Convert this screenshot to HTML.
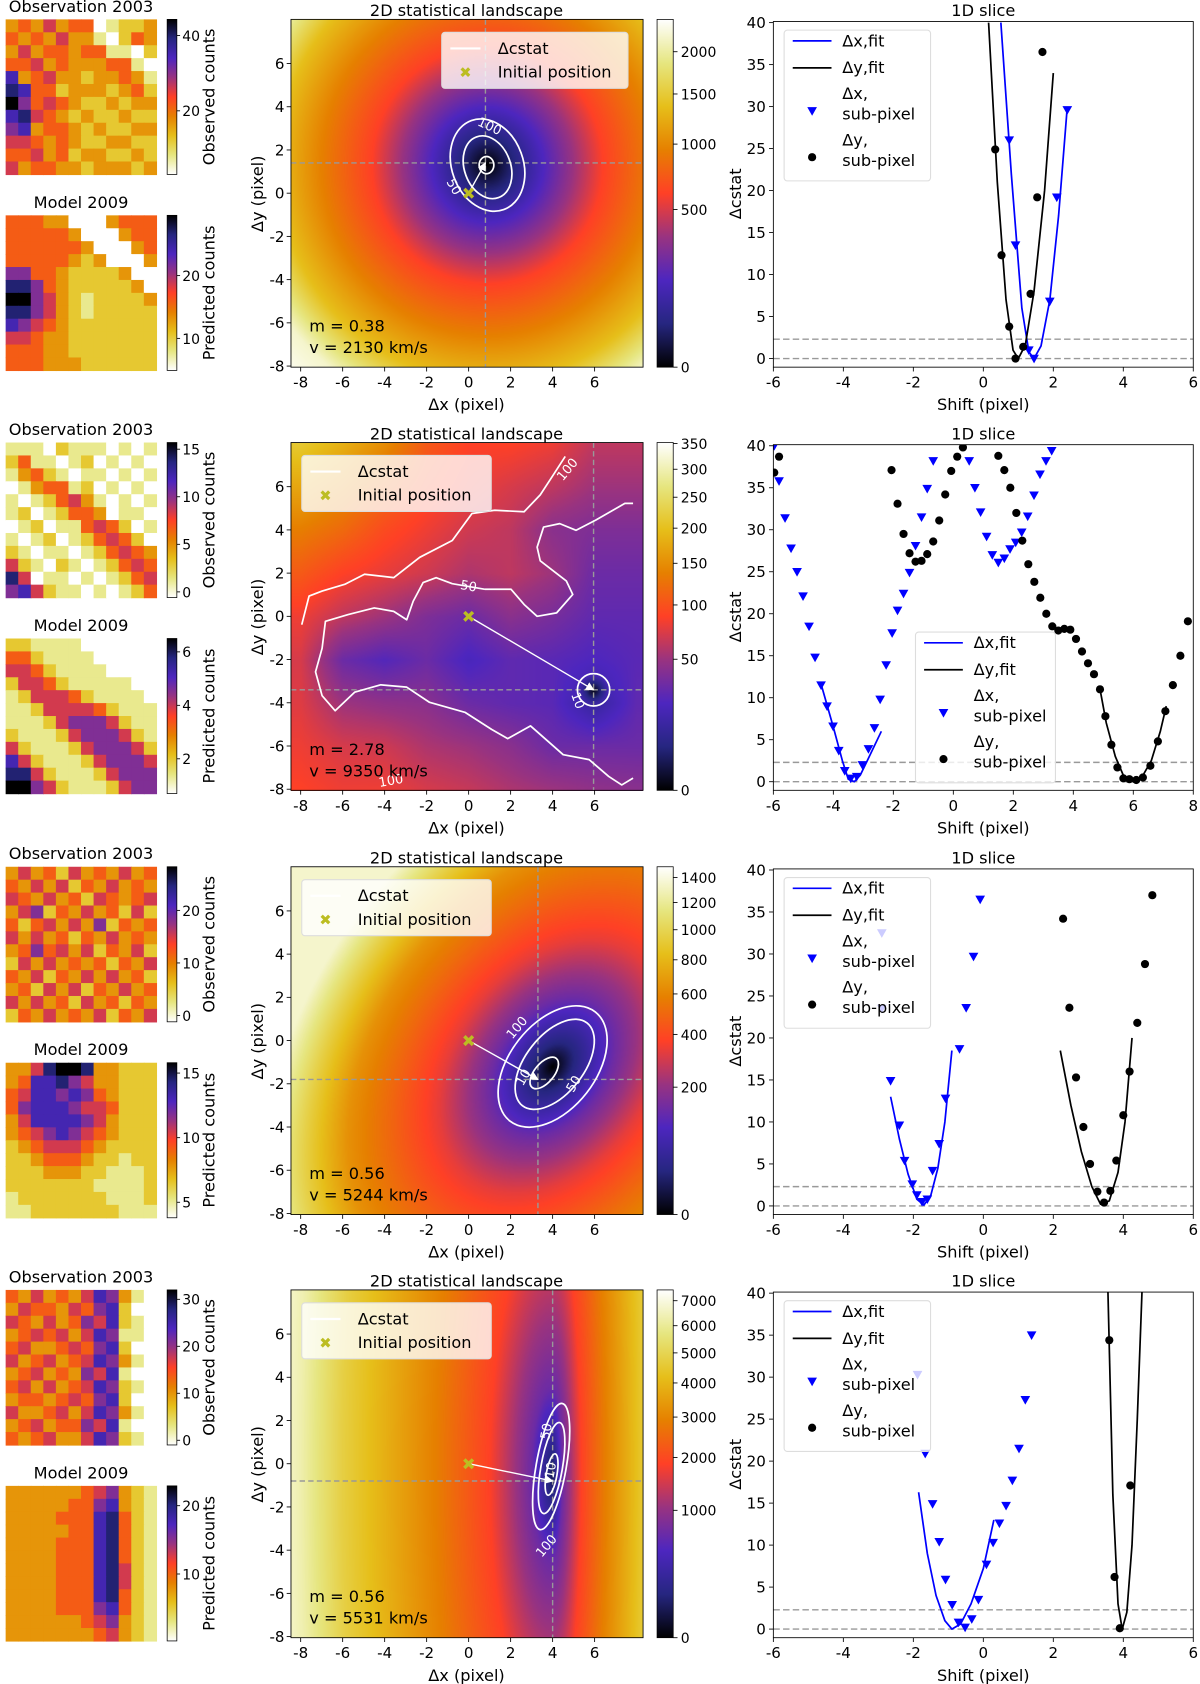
<!DOCTYPE html>
<html><head><meta charset="utf-8">
<style>
html,body{margin:0;padding:0;background:#fff;}
#wrap{position:relative;width:1200px;height:1684px;overflow:hidden;background:#fff;}
canvas{position:absolute;z-index:0;}
svg{position:absolute;left:0;top:0;z-index:1;}
text{font-family:"DejaVu Sans","Liberation Sans",sans-serif;}
</style></head>
<body>
<div id="wrap">
<svg id="fig" width="1200" height="1684" viewBox="0 0 1114 1564">
<defs>
<linearGradient id="cmapUp" x1="0" y1="1" x2="0" y2="0">
<stop offset="0" stop-color="rgb(0,0,0)"/><stop offset="0.125" stop-color="rgb(38,38,128)"/><stop offset="0.25" stop-color="rgb(77,38,191)"/><stop offset="0.375" stop-color="rgb(153,51,128)"/><stop offset="0.5" stop-color="rgb(255,64,38)"/><stop offset="0.625" stop-color="rgb(230,128,0)"/><stop offset="0.75" stop-color="rgb(230,191,26)"/><stop offset="0.875" stop-color="rgb(230,230,128)"/><stop offset="1" stop-color="rgb(255,255,255)"/>
</linearGradient>
<linearGradient id="cmapDown" x1="0" y1="0" x2="0" y2="1">
<stop offset="0" stop-color="rgb(0,0,0)"/><stop offset="0.125" stop-color="rgb(38,38,128)"/><stop offset="0.25" stop-color="rgb(77,38,191)"/><stop offset="0.375" stop-color="rgb(153,51,128)"/><stop offset="0.5" stop-color="rgb(255,64,38)"/><stop offset="0.625" stop-color="rgb(230,128,0)"/><stop offset="0.75" stop-color="rgb(230,191,26)"/><stop offset="0.875" stop-color="rgb(230,230,128)"/><stop offset="1" stop-color="rgb(255,255,255)"/>
</linearGradient>
<marker id="arrowHead" markerWidth="8" markerHeight="8" refX="7" refY="4" orient="auto" markerUnits="userSpaceOnUse"><path d="M0,0 L8,4 L0,8 Z" fill="#fff"/></marker>
</defs>
</svg>
</div>
<script>
// ---------- data ----------
const rowOffsets=[0,393,787,1180];
const obsImg1=["343534401223","434353310243","353443441102","445343334410","734533233431","874423332342","964543223233","785432322322","673443232233","554343223322","445342332232","534433233323"];
const modImg1=["444330003444","444443000344","444444300034","444443230003","664432222300","886432222230","996532122223","886532122222","765432222222","554332222222","444332222222","444333222222"];
const obsImg2=["111021110101","241101201010","134210110101","013441201010","101245310101","120124430110","012011454201","101201245420","210110124543","521021012454","850110101245","675211010124"];
const modImg2=["221111000000","442111100000","554211110000","255421111100","125554211110","112555542111","111256665211","211125666521","521112566652","752111256665","885211125666","996521112566"];
const obsImg3=["353425343534","435352435343","543534254345","356243534252","424535362434","535342435343","346453524352","253534342435","435243535342","342535243534","535342534243","243534352435"];
const modImg3=["335899833222","347786533222","457767643222","467776554222","357777653222","345676543222","234555432222","223444322122","222333221112","222222211112","122222221112","112222222111"];
const obsImg4=["435343576310","354435467200","543534657210","345453576110","453345467200","534534576310","345343657100","453534576210","344345467200","533453576310","345344657100","434533576210"];
const modImg4=["333333456321","333334467321","333344478421","333334478421","333344478421","333344478421","333344478521","333344478521","333344478421","333344467421","333333456321","333333345321"];
const obsImgs=[obsImg1,obsImg2,obsImg3,obsImg4];
const modImgs=[modImg1,modImg2,modImg3,modImg4];
const obsRange=[[3.1,44.3],[-0.6,15.7],[-1.2,28.3],[-1,32]];
const obsTicks=[[20,40],[0,5,10,15],[0,10,20],[0,10,20,30]];
const modRange=[[4.9,29.6],[0.7,6.5],[3.8,15.8],[0.2,22.9]];
const modTicks=[[10,20],[2,4,6],[5,10,15],[10,20]];
const landVmax=[2431,352,1491,7455];
const landTicks=[[0,500,1000,1500,2000],[0,50,100,150,200,250,300,350],[0,200,400,600,800,1000,1200,1400],[0,1000,2000,3000,4000,5000,6000,7000]];
const bestPos=[[0.8,1.4],[5.95,-3.4],[3.3,-1.8],[4.0,-0.8]];
const mTexts=["m = 0.38","m = 2.78","m = 0.56","m = 0.56"];
const vTexts=["v = 2130 km/s","v = 9350 km/s","v = 5244 km/s","v = 5531 km/s"];
const landXTicks=[-8,-6,-4,-2,0,2,4,6];
const landYTicks=[-8,-6,-4,-2,0,2,4,6];
const profD=[0,1,3,5.5,8,10,12,14];
const profT1=[0,0.1,0.28,0.5,0.63,0.75,0.95,1];
const profT3=[0,0.12,0.3,0.47,0.58,0.66,0.8,0.95];
const profT4=[0.08,0.3,0.5,0.62,0.72,0.8,0.92,1];
const land2Grid=[
[0.78,0.72,0.65,0.55,0.5,0.5,0.48,0.42,0.42],
[0.7,0.65,0.58,0.52,0.48,0.45,0.42,0.38,0.38],
[0.62,0.58,0.52,0.48,0.44,0.42,0.35,0.33,0.33],
[0.55,0.5,0.47,0.44,0.4,0.42,0.38,0.3,0.3],
[0.48,0.42,0.38,0.33,0.3,0.35,0.32,0.28,0.28],
[0.45,0.3,0.26,0.3,0.24,0.28,0.27,0.25,0.27],
[0.46,0.38,0.36,0.35,0.3,0.28,0.27,0.18,0.28],
[0.48,0.45,0.44,0.4,0.38,0.35,0.3,0.3,0.3],
[0.5,0.48,0.48,0.45,0.43,0.4,0.38,0.36,0.35]];
// contour ellipses per row: [cx, cy, rx, ry, angleDeg, label, labelDx, labelDy, labelRot]
const contours1=[[0.85,1.3,0.35,0.4,0,"",0,0,0],[0.9,1.2,1.1,1.5,-20,"50",-0.7,0.3,60],[0.9,1.3,1.7,2.2,-20,"100",1.0,3.1,25]];
const contours3=[[3.6,-1.5,0.9,0.45,-50,"10",2.6,-1.7,-60],[4.1,-1.1,2.5,1.35,-52,"50",5.0,-2.0,-60],[4.0,-1.2,3.3,2.0,-52,"100",2.3,0.6,-50]];
const contours4=[[3.95,-0.5,1.0,0.25,-80,"10",3.9,-0.3,-80],[3.95,-0.2,2.2,0.5,-80,"50",3.7,1.5,-80],[3.93,-0.13,3.05,0.7,-80,"100",3.7,-3.8,-50]];
const contourSets=[contours1,null,contours3,contours4];
const c2Line100X=[-7.95,-7.6,-6.98,-5.9,-4.96,-3.57,-2.33,-0.78,0.16,1.24,2.64,3.41,4.0,4.6];
const c2Line100Y=[-0.39,0.94,1.17,1.48,1.95,1.79,2.73,3.51,4.76,4.91,4.84,5.62,6.5,7.4];
const c2Line50X=[0.78,-0.78,-1.55,-2.17,-2.64,-2.95,-3.57,-4.5,-5.74,-6.82,-6.98,-7.29,-6.98,-6.36,-5.43,-4.19,-2.95,-1.86,-0.16,1.09,1.86,2.95,4.03,4.5,5.74,6.67,7.29,7.83];
const c2Line50Y=[1.25,1.51,1.79,1.56,0.7,-0.16,0.23,0.39,0.08,-0.23,-1.48,-2.57,-3.67,-4.37,-3.51,-3.17,-3.28,-3.98,-4.45,-5.23,-5.66,-5.07,-6.0,-6.4,-6.63,-7.41,-7.8,-7.49];
const c2Line50bX=[0.78,2.02,2.64,3.26,4.19,4.96,4.65,3.41,3.26,3.57,4.34,5.12,6.05,7.44,7.83];
const c2Line50bY=[1.25,1.25,0.55,0,0.16,1.01,1.64,2.57,3.2,4.13,4.29,3.98,4.45,5.23,5.23];
const sliceXTicks1=[-6,-4,-2,0,2,4,6];
const sliceXTicks2=[-6,-4,-2,0,2,4,6,8];
const sliceYTicks=[0,5,10,15,20,25,30,35,40];
const triX1=[0.74,0.92,1.3,1.45,1.9,2.1,2.4];
const triY1=[26,13.5,1.0,0,6.8,19.2,29.6];
const dotX1=[0.34,0.52,0.74,0.92,1.14,1.35,1.54,1.69];
const dotY1=[24.9,12.3,3.8,0,1.4,7.7,19.2,36.5];
const fitBX1=[0.5,0.8,1.1,1.3,1.45,1.65,1.9,2.15,2.4];
const fitBY1=[40,22,6,0.8,0,1.5,7,17,30];
const fitKX1=[0.15,0.4,0.65,0.85,1.0,1.2,1.45,1.75,2.0];
const fitKY1=[40,21,7,1,0,1.6,8,20,34];
const triX2=[-5.97,-5.81,-5.61,-5.41,-5.21,-5.01,-4.81,-4.61,-4.41,-4.21,-4.01,-3.82,-3.62,-3.42,-3.22,-3.03,-2.83,-2.63,-2.44,-2.24,-2.04,-1.86,-1.66,-1.46,-1.26,-1.06,-0.87,-0.67,0.53,0.72,0.91,1.11,1.3,1.5,1.7,1.89,2.08,2.28,2.48,2.69,2.89,3.09,3.28];
const triY2=[40,35.8,31.4,27.8,25,22.1,18.5,14.8,11.5,9,6.6,3.7,1.3,0.4,0.6,2,3.9,6.4,9.8,13.9,17.7,20.4,22.4,24.9,28.1,31.5,34.9,38.2,38.2,35,32.1,29.2,27,26.1,26.6,27.7,28.5,29.7,31.6,34.1,36.6,38.2,39.4];
const dotX2=[-5.97,-5.81,-2.06,-1.86,-1.66,-1.46,-1.26,-1.06,-0.87,-0.67,-0.47,-0.27,-0.07,0.13,0.32,1.5,1.7,1.9,2.1,2.3,2.5,2.7,2.9,3.1,3.3,3.5,3.7,3.9,4.09,4.29,4.49,4.69,4.89,5.07,5.27,5.47,5.67,5.87,6.1,6.32,6.57,6.82,7.07,7.32,7.57,7.82];
const dotY2=[36.8,38.7,37.1,33.1,29.5,27.2,26.2,26.3,27.1,28.6,31.1,34.2,37,38.7,39.8,38.8,37.1,35,32,28.7,25.9,23.8,21.9,20,18.5,18,18.2,18.1,17,15.5,14.1,12.8,11,7.8,4.4,1.7,0.4,0.3,0.2,0.5,1.9,4.8,8.4,11.5,15,19.1];
const fitBX2=[-4.4,-4.0,-3.7,-3.5,-3.3,-3.1,-2.8,-2.4];
const fitBY2=[11.5,6.5,2.5,0.3,0,0.8,3,6];
const fitKX2=[4.89,5.1,5.4,5.7,6.0,6.3,6.6,6.9,7.1];
const fitKY2=[11,7,3,0.5,0,0.6,2.5,6,9];
const triX3=[-2.9,-2.9,-2.65,-2.4,-2.25,-2.03,-1.9,-1.75,-1.6,-1.45,-1.26,-1.08,-0.68,-0.49,-0.28,-0.09];
const triY3=[32.5,23.5,14.9,9.6,5.4,2.6,1.3,0.5,0.8,4.2,7.4,12.8,18.7,23.6,29.7,36.5];
const dotX3=[2.28,2.46,2.65,2.86,3.05,3.26,3.45,3.63,3.8,4.0,4.18,4.4,4.62,4.83];
const dotY3=[34.2,23.6,15.3,9.4,5,1.7,0.4,1.8,5.4,10.8,16,21.8,28.8,37];
const fitBX3=[-2.65,-2.4,-2.15,-1.9,-1.7,-1.5,-1.3,-1.1,-0.9];
const fitBY3=[13,8,3.8,0.8,0.1,1.3,4.5,10,18.5];
const fitKX3=[2.2,2.5,2.8,3.1,3.35,3.6,3.85,4.05,4.25];
const fitKY3=[18.5,12,6.5,2.3,0.2,0.6,4,10,20];
const triX4=[-1.88,-1.66,-1.45,-1.26,-1.08,-0.89,-0.71,-0.52,-0.33,-0.14,0.09,0.28,0.46,0.65,0.83,1.02,1.2,1.38];
const triY4=[30.3,20.9,14.9,10.4,5.9,2.9,0.8,0.2,1.2,3.5,7.7,10.3,12.6,14.7,17.7,21.5,27.3,35];
const dotX4=[3.6,3.75,3.9,4.2];
const dotY4=[34.4,6.2,0.1,17.1];
const fitBX4=[-1.85,-1.6,-1.35,-1.1,-0.9,-0.65,-0.35,0,0.3];
const fitBY4=[16.3,9,4,1,0,0.6,3,7.2,13];
const fitKX4=[3.55,3.7,3.85,3.97,4.1,4.25,4.4,4.55];
const fitKY4=[42,16,3,0,2,10,25,42];
const triXs=[triX1,triX2,triX3,triX4], triYs=[triY1,triY2,triY3,triY4];
const dotXs=[dotX1,dotX2,dotX3,dotX4], dotYs=[dotY1,dotY2,dotY3,dotY4];
const fitBXs=[fitBX1,fitBX2,fitBX3,fitBX4], fitBYs=[fitBY1,fitBY2,fitBY3,fitBY4];
const fitKXs=[fitKX1,fitKX2,fitKX3,fitKX4], fitKYs=[fitKY1,fitKY2,fitKY3,fitKY4];
const chi2Levels=[0,2.3];

// ---------- helpers ----------
const NS="http://www.w3.org/2000/svg";
const svg=document.getElementById('fig');
const wrap=document.getElementById('wrap');
const SC=1200/1114;
function mk(tag,attrs,parent,txt){const e=document.createElementNS(NS,tag);for(const k in attrs)e.setAttribute(k,attrs[k]);if(txt!==undefined)e.textContent=txt;(parent||svg).appendChild(e);return e;}
const CM=[[0,0,0],[38,38,128],[77,38,191],[153,51,128],[255,64,38],[230,128,0],[230,191,26],[230,230,128],[255,255,255]];
function cmap(t){t=Math.max(0,Math.min(1,t));const f=t*8;const i=Math.min(7,Math.floor(f));const r=f-i;const a=CM[i],b=CM[i+1];return[a[0]+(b[0]-a[0])*r,a[1]+(b[1]-a[1])*r,a[2]+(b[2]-a[2])*r];}
function rgb(c){return 'rgb('+Math.round(c[0])+','+Math.round(c[1])+','+Math.round(c[2])+')';}
function interp(xs,ys,x){if(x<=xs[0])return ys[0];for(let i=1;i<xs.length;i++){if(x<=xs[i]){const r=(x-xs[i-1])/(xs[i]-xs[i-1]);return ys[i-1]+(ys[i]-ys[i-1])*r;}}return ys[ys.length-1];}

const LX0=270,LX1=597;
function lx(x){return 279+(x+8)*19.5;}
function ly(y,ro){return ro+59-(y-6)*20.07;}
function sx(x,r){return r===1?718+(x+6)*27.857:718+(x+6)*32.5;}
function sy(y,ro){return ro+333-y*7.8;}

function fieldT(r,x,y){
  if(r===0){const d=Math.hypot(x-0.9,y-1.3);return interp(profD,profT1,d);}
  if(r===2){const dx=x-4.0,dy=y+1.2;const a=-52*Math.PI/180;const u=dx*Math.cos(a)+(-dy)*Math.sin(a),v=-dx*Math.sin(a)+(-dy)*Math.cos(a);const d=Math.hypot(u*0.85,v*1.2);return interp(profD,profT3,d);}
  if(r===3){let dx=x-4.0;dx=dx>0?dx*2.2:-dx;const d=Math.hypot(dx,(y+0.5)*0.25);return interp(profD,profT4,d);}
  const gx=(x+8)/2,gy=(8-y)/2;const i=Math.max(0,Math.min(7,Math.floor(gy))),j=Math.max(0,Math.min(7,Math.floor(gx)));
  const ry=Math.max(0,Math.min(1,gy-i)),rx=Math.max(0,Math.min(1,gx-j));
  const g=land2Grid;let t=g[i][j]*(1-rx)*(1-ry)+g[i][j+1]*rx*(1-ry)+g[i+1][j]*(1-rx)*ry+g[i+1][j+1]*rx*ry;
  const dd=Math.hypot(x-bestPos[1][0],y-bestPos[1][1]);t=Math.min(t,0.02+0.26*dd/0.9);return t;
}

function axisText(x,y,s,anchor,size,parent){return mk('text',{x:x,y:y,'font-size':size||13,'text-anchor':anchor||'middle',fill:'#000'},parent,s);}

for(let r=0;r<4;r++){
  const ro=rowOffsets[r];
  const row=mk('g',{});
  
  

  const imgs=[[obsImgs[r],18,'Observation 2003','observed-image','Observed counts',obsRange[r],obsTicks[r]],[modImgs[r],200,'Model 2009','model-image','Predicted counts',modRange[r],modTicks[r]]];
  imgs.forEach(function(I){
    const grid=I[0],top=ro+I[1],h=144,w=140,x0=5;
    const t=axisText(75,top-7,I[2],'middle',15,row);
    
    
    const g=mk('g',{},row);
    
    
    const n=grid.length,m=grid[0].length;
    for(let i=0;i<n;i++)for(let j=0;j<m;j++){
      const v=+grid[i][j]/9;
      const c=mk('rect',{x:x0+j*w/m,y:top+i*h/n,width:w/m+0.6,height:h/n+0.6,fill:rgb(cmap(1-v))},g);
      
      
    }
    const cb=mk('rect',{x:155,y:top,width:9,height:h,fill:'url(#cmapDown)',stroke:'#000','stroke-width':0.7},row);
    
    
    const rg=I[5];
    I[6].forEach(function(v){
      const yy=top+h-(v-rg[0])/(rg[1]-rg[0])*h;
      mk('line',{x1:164,x2:167,y1:yy,y2:yy,stroke:'#000','stroke-width':0.8},row);
      const tl=axisText(169,yy+5,String(v),'start',13,row);
      
      
    });
    const lab=mk('text',{x:0,y:0,'font-size':15,'text-anchor':'middle',transform:'translate(199,'+(top+h/2)+') rotate(-90)'},row,I[4]);
    
    
  });

  const W=LX1-LX0,H=323;
  const cv=document.createElement('canvas');
  cv.width=W;cv.height=H;
  cv.style.left=(LX0*SC)+'px';cv.style.top=((ro+18)*SC)+'px';
  cv.style.width=(W*SC)+'px';cv.style.height=(H*SC)+'px';
  
  
  wrap.appendChild(cv);
  const ctx=cv.getContext('2d');const im=ctx.createImageData(W,H);
  for(let py=0;py<H;py++)for(let px=0;px<W;px++){
    const X=-8+(LX0+px+0.5-279)/19.5,Y=6-(py+0.5+18-59)/20.07;
    const c=cmap(fieldT(r,X,Y));const k=(py*W+px)*4;
    im.data[k]=c[0];im.data[k+1]=c[1];im.data[k+2]=c[2];im.data[k+3]=255;
  }
  ctx.putImageData(im,0,0);

  const lt=axisText(433,ro+15,'2D statistical landscape','middle',15,row);
  
  
  const bp=bestPos[r];
  const chv=mk('line',{x1:lx(bp[0]),x2:lx(bp[0]),y1:ro+18,y2:ro+341,stroke:'#999','stroke-width':1.3,'stroke-dasharray':'5,3'},row);
  
  
  const chh=mk('line',{x1:LX0,x2:LX1,y1:ly(bp[1],ro),y2:ly(bp[1],ro),stroke:'#999','stroke-width':1.3,'stroke-dasharray':'5,3'},row);
  
  
  const cg=mk('g',{fill:'none',stroke:'#fff','stroke-width':1.6},row);
  
  
  if(contourSets[r]){
    contourSets[r].forEach(function(c){
      const e=mk('ellipse',{cx:lx(c[0]),cy:ly(c[1],ro),rx:c[2]*19.5,ry:c[3]*20,transform:'rotate('+c[4]+' '+lx(c[0])+' '+ly(c[1],ro)+')'},cg);
      
      
      if(c[5]){
        const qx=lx(c[6]),qy=ly(c[7],ro);
        const tl=mk('text',{x:qx,y:qy+4,'font-size':12,'text-anchor':'middle',fill:'#fff',stroke:'none',transform:'rotate('+c[8]+' '+qx+' '+qy+')'},row,c[5]);
        
        
      }
    });
  } else {
    [[c2Line100X,c2Line100Y],[c2Line50X,c2Line50Y],[c2Line50bX,c2Line50bY]].forEach(function(L,k){
      let d='';for(let i=0;i<L[0].length;i++)d+=(i?'L':'M')+lx(L[0][i]).toFixed(1)+','+ly(L[1][i],ro).toFixed(1);
      const p=mk('path',{d:d,'stroke-linejoin':'round'},cg);
      
      
    });
    const e=mk('circle',{cx:lx(bestPos[1][0]),cy:ly(bestPos[1][1],ro),r:15},cg);
    
    
    [['100',4.7,6.8,-50],['50',0,1.4,10],['10',5.2,-3.9,70],['100',-3.7,-7.6,-10]].forEach(function(L){
      const qx=lx(L[1]),qy=ly(L[2],ro);
      const tl=mk('text',{x:qx,y:qy+4,'font-size':12,'text-anchor':'middle',fill:'#fff',transform:'rotate('+L[3]+' '+qx+' '+qy+')'},row,L[0]);
      
      
    });
  }
  const ar=mk('line',{x1:lx(0),y1:ly(0,ro),x2:lx(bp[0]),y2:ly(bp[1],ro),stroke:'#fff','stroke-width':1.3,'marker-end':'url(#arrowHead)'},row);
  
  
  const ix=lx(0),iy=ly(0,ro);
  const ip=mk('path',{d:'M'+(ix-4)+','+(iy-4)+'L'+(ix+4)+','+(iy+4)+'M'+(ix+4)+','+(iy-4)+'L'+(ix-4)+','+(iy+4),stroke:'#bcbd22','stroke-width':3.2},row);
  
  
  const fr=mk('rect',{x:LX0,y:ro+18,width:LX1-LX0,height:323,fill:'none',stroke:'#000','stroke-width':0.8},row);
  
  
  landXTicks.forEach(function(v){
    const xx=lx(v);mk('line',{x1:xx,x2:xx,y1:ro+341,y2:ro+345,stroke:'#000','stroke-width':0.8},row);
    const t=axisText(xx,ro+360,String(v),'middle',14,row);
    
    
  });
  landYTicks.forEach(function(v){
    const yy=ly(v,ro);mk('line',{x1:LX0-4,x2:LX0,y1:yy,y2:yy,stroke:'#000','stroke-width':0.8},row);
    const t=axisText(LX0-6,yy+5,String(v),'end',14,row);
    
    
  });
  const xl=axisText(433,ro+381,'Δx (pixel)','middle',15,row);
  
  
  const yl=mk('text',{x:0,y:0,'font-size':15,'text-anchor':'middle',transform:'translate(244,'+(ro+180)+') rotate(-90)'},row,'Δy (pixel)');
  
  
  const mt=axisText(287,ro+308,mTexts[r],'start',15,row);
  
  
  const vt=axisText(287,ro+328,vTexts[r],'start',15,row);
  
  
  const lgx=r===0?410:280;
  const lg=mk('g',{},row);
  
  
  mk('rect',{x:lgx,y:ro+30,width:r===0?173:176,height:52,rx:3,fill:'#fff','fill-opacity':0.8,stroke:'#ddd'},lg);
  mk('line',{x1:lgx+8,x2:lgx+36,y1:ro+45,y2:ro+45,stroke:'#fff','stroke-width':2},lg);
  axisText(lgx+52,ro+50,'Δcstat','start',15,lg);
  const lx0=lgx+22,ly0=ro+67;
  mk('path',{d:'M'+(lx0-3.5)+','+(ly0-3.5)+'L'+(lx0+3.5)+','+(ly0+3.5)+'M'+(lx0+3.5)+','+(ly0-3.5)+'L'+(lx0-3.5)+','+(ly0+3.5),stroke:'#bcbd22','stroke-width':3},lg);
  axisText(lgx+52,ro+72,'Initial position','start',15,lg);
  const lcb=mk('rect',{x:610,y:ro+18,width:15,height:323,fill:'url(#cmapUp)',stroke:'#000','stroke-width':0.7},row);
  
  
  landTicks[r].forEach(function(v){
    const yy=ro+341-Math.sqrt(v/landVmax[r])*323;
    mk('line',{x1:625,x2:629,y1:yy,y2:yy,stroke:'#000','stroke-width':0.8},row);
    const t=axisText(632,yy+5,String(v),'start',13,row);
    
    
  });

  const st=axisText(913,ro+15,'1D slice','middle',15,row);
  
  
  const clipId='clip'+r;
  const cp=mk('clipPath',{id:clipId},row);mk('rect',{x:718,y:ro+20,width:390,height:321},cp);
  const pg=mk('g',{'clip-path':'url(#'+clipId+')'},row);
  
  
  chi2Levels.forEach(function(v){
    const h=mk('line',{x1:718,x2:1108,y1:sy(v,ro),y2:sy(v,ro),stroke:'#999','stroke-width':1.3,'stroke-dasharray':'6,3'},pg);
    
    
  });
  function poly(xs,ys,col,name){let d='';for(let i=0;i<xs.length;i++)d+=(i?'L':'M')+sx(xs[i],r).toFixed(1)+','+sy(ys[i],ro).toFixed(1);const p=mk('path',{d:d,fill:'none',stroke:col,'stroke-width':1.6,'stroke-linejoin':'round'},pg);}
  poly(fitBXs[r],fitBYs[r],'#0000ff','dx-fit-line');
  poly(fitKXs[r],fitKYs[r],'#000','dy-fit-line');
  triXs[r].forEach(function(v,i){
    const X=sx(v,r),Y=sy(triYs[r][i],ro);
    const t=mk('path',{d:'M'+(X-4.5)+','+(Y-3.5)+'L'+(X+4.5)+','+(Y-3.5)+'L'+X+','+(Y+4.5)+'Z',fill:'#0000ff'},pg);
    
    
  });
  dotXs[r].forEach(function(v,i){
    const c=mk('circle',{cx:sx(v,r),cy:sy(dotYs[r][i],ro),r:3.8,fill:'#000'},pg);
    
    
  });
  const sf=mk('rect',{x:718,y:ro+20,width:390,height:321,fill:'none',stroke:'#000','stroke-width':0.8},row);
  
  
  (r===1?sliceXTicks2:sliceXTicks1).forEach(function(v){
    const xx=sx(v,r);mk('line',{x1:xx,x2:xx,y1:ro+341,y2:ro+345,stroke:'#000','stroke-width':0.8},row);
    const t=axisText(xx,ro+360,String(v),'middle',14,row);
    
    
  });
  sliceYTicks.forEach(function(v){
    const yy=sy(v,ro);mk('line',{x1:714,x2:718,y1:yy,y2:yy,stroke:'#000','stroke-width':0.8},row);
    const t=axisText(711,yy+5,String(v),'end',14,row);
    
    
  });
  const sxl=axisText(913,ro+381,'Shift (pixel)','middle',15,row);
  
  
  const syl=mk('text',{x:0,y:0,'font-size':15,'text-anchor':'middle',transform:'translate(688,'+(ro+180)+') rotate(-90)'},row,'Δcstat');
  
  
  const bx=r===1?850:728,by=r===1?ro+194:ro+28;
  const sl=mk('g',{},row);
  
  
  mk('rect',{x:bx,y:by,width:r===1?130:136,height:140,rx:3,fill:'#fff','fill-opacity':0.8,stroke:'#ddd'},sl);
  mk('line',{x1:bx+8,x2:bx+44,y1:by+10,y2:by+10,stroke:'#0000ff','stroke-width':1.6},sl);
  axisText(bx+54,by+15,'Δx,fit','start',15,sl);
  mk('line',{x1:bx+8,x2:bx+44,y1:by+35,y2:by+35,stroke:'#000','stroke-width':1.6},sl);
  axisText(bx+54,by+40,'Δy,fit','start',15,sl);
  const mx=bx+26,my=by+75;
  mk('path',{d:'M'+(mx-4.5)+','+(my-3.5)+'L'+(mx+4.5)+','+(my-3.5)+'L'+mx+','+(my+4.5)+'Z',fill:'#0000ff'},sl);
  axisText(bx+54,by+64,'Δx,','start',15,sl);
  axisText(bx+54,by+83,'sub-pixel','start',15,sl);
  mk('circle',{cx:mx,cy:by+118,r:3.8,fill:'#000'},sl);
  axisText(bx+54,by+107,'Δy,','start',15,sl);
  axisText(bx+54,by+126,'sub-pixel','start',15,sl);
}
</script>
</body></html>
